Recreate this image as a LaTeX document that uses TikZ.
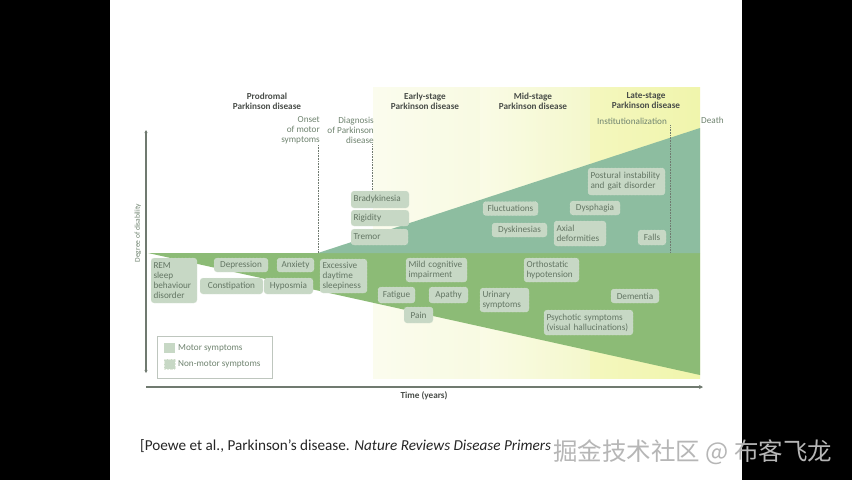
\documentclass[tikz,border=0pt]{standalone}
\usepackage{fontspec}
\setmainfont{Carlito}
\newfontfamily\cjkfont{Noto Sans CJK SC}
\usepackage{tikz}
\usetikzlibrary{arrows.meta,calc}
\definecolor{Motor}{RGB}{141,189,160}
\definecolor{NonMotor}{RGB}{140,187,118}
\definecolor{BoxFill}{RGB}{199,216,197}
\definecolor{BoxLine}{RGB}{228,236,224}
\definecolor{BoxText}{RGB}{100,118,100}
\definecolor{Head}{RGB}{72,76,72}
\definecolor{Note}{RGB}{112,132,112}
\definecolor{Axis}{RGB}{112,122,112}
\definecolor{LegendLine}{RGB}{190,198,190}
\definecolor{Mark}{RGB}{182,182,182}

\begin{document}
\begin{tikzpicture}[x=1pt, y=-1pt,
    symbox/.style={rounded corners=3pt, fill=BoxFill, draw=BoxLine, densely dotted,
        text=BoxText, font=\fontsize{9.2}{10}\selectfont, inner xsep=2.5pt, inner ysep=1pt, align=left},
    stagehead/.style={text=Head, font=\bfseries\fontsize{9.2}{10}\selectfont, align=center},
    eventnote/.style={text=Note, font=\fontsize{9.2}{10}\selectfont},
    guide/.style={densely dotted, draw=Axis, line width=0.6pt},
    axisline/.style={draw=Axis, line width=1.1pt}]
    %% Background
    \useasboundingbox (0,0) rectangle (852,480);
    \fill[black] (0,0) rectangle (110,480);
    \fill[white] (110,0) rectangle (742,480);
    \fill[black] (742,0) rectangle (852,480);

    %% Stage bands
    \shade[left color={rgb,255:red,251;green,252;blue,238}, right color={rgb,255:red,248;green,250;blue,226}]
    (373,87) rectangle (480,378);
    \shade[left color={rgb,255:red,250;green,251;blue,230}, right color={rgb,255:red,244;green,248;blue,204}]
    (480,87) rectangle (590,378);
    \shade[left color={rgb,255:red,244;green,247;blue,190}, right color={rgb,255:red,240;green,245;blue,172}]
    (590,87) rectangle (700,378);

    %% Symptom wedges
    \fill[NonMotor] (148,253) -- (700,253) -- (700,375) -- cycle;
    \fill[Motor] (318,253) -- (700,128) -- (700,253) -- cycle;

    %% Stage headings
    \node[stagehead] (prodromal) at (267,101) {Prodromal\\Parkinson disease};
    \node[stagehead] (early) at (425,101) {Early-stage\\Parkinson disease};
    \node[stagehead] (mid) at (533,101) {Mid-stage\\Parkinson disease};
    \node[stagehead] (late) at (646,101) {Late-stage\\Parkinson disease};

    %% Events
    \node[eventnote, align=right, anchor=east, inner sep=1pt] (onset) at (321,130) {Onset\\of motor\\symptoms};
    \node[eventnote, align=right, anchor=east, inner sep=1pt] (diagnosis) at (375,130) {Diagnosis\\of Parkinson\\disease};
    \node[eventnote, inner sep=1pt] (institution) at (632,121) {Institutionalization};
    \node[eventnote, anchor=west, inner sep=1pt] (death) at (700,120) {Death};

    %% Motor symptoms
    \node[symbox, text width=53pt, minimum height=17pt] (brady) at (380,199.5) {Bradykinesia};
    \node[symbox, text width=53pt, minimum height=16pt] (rigidity) at (380,218) {Rigidity};
    \node[symbox, text width=52pt, minimum height=16pt] (tremor) at (379.5,237) {Tremor};
    \node[symbox, text width=72pt, minimum height=27pt] (postural) at (626.5,181.5) {Postural instability\\and gait disorder};
    \node[symbox, text width=50pt, minimum height=14pt, align=center] (fluct) at (510.5,208.5) {Fluctuations};
    \node[symbox, text width=45pt, minimum height=14pt, align=center] (dysphagia) at (595,208) {Dysphagia};
    \node[symbox, text width=50pt, minimum height=14pt, align=center] (dyskin) at (519.5,230) {Dyskinesias};
    \node[symbox, text width=47pt, minimum height=25pt] (axial) at (580,233.5) {Axial\\deformities};
    \node[symbox, text width=23pt, minimum height=15pt, align=center] (falls) at (652,237.5) {Falls};

    %% Non-motor symptoms
    \node[symbox, text width=41pt, minimum height=45pt] (rem) at (174,280.5) {REM\\sleep\\behaviour\\disorder};
    \node[symbox, text width=49pt, minimum height=14pt, align=center] (depression) at (241,265) {Depression};
    \node[symbox, text width=32pt, minimum height=14pt, align=center] (anxiety) at (295.5,265) {Anxiety};
    \node[symbox, text width=58pt, minimum height=16pt, align=center] (constipation) at (231.5,286) {Constipation};
    \node[symbox, text width=44pt, minimum height=16pt, align=center] (hyposmia) at (288.5,286) {Hyposmia};
    \node[symbox, text width=42pt, minimum height=34pt] (sleepiness) at (343.5,276) {Excessive\\daytime\\sleepiness};
    \node[symbox, text width=56pt, minimum height=24pt] (cognitive) at (436.5,270) {Mild cognitive\\impairment};
    \node[symbox, text width=50pt, minimum height=24pt] (orthostatic) at (551.5,270) {Orthostatic\\hypotension};
    \node[symbox, text width=32pt, minimum height=16pt, align=center] (fatigue) at (396.5,295) {Fatigue};
    \node[symbox, text width=34pt, minimum height=16pt, align=center] (apathy) at (448.5,295) {Apathy};
    \node[symbox, text width=44pt, minimum height=24pt] (urinary) at (504.5,300) {Urinary\\symptoms};
    \node[symbox, text width=43pt, minimum height=14pt, align=center] (dementia) at (635,296) {Dementia};
    \node[symbox, text width=24pt, minimum height=16pt, align=center] (pain) at (418.5,315) {Pain};
    \node[symbox, text width=84pt, minimum height=25pt] (psychotic) at (588.5,322.5) {Psychotic symptoms\\(visual hallucinations)};

    %% Event lines
    \coordinate (onsetfoot) at (318,253);
    \coordinate (diagfoot) at (372,253);
    \coordinate (institutionfoot) at (670,253);
    \draw[guide] (onset.south -| onsetfoot) -- (onsetfoot);
    \draw[guide] (diagnosis.south -| diagfoot) -- (brady.north -| diagfoot);
    \draw[guide] (institution.south -| institutionfoot) -- (institutionfoot);

    %% Axes
    \coordinate (ytop) at (146,130);
    \coordinate (ybottom) at (146,373);
    \coordinate (xleft) at (146,387);
    \coordinate (xright) at (703,387);
    \draw[axisline, {Stealth[length=3pt,width=3pt]}-{Stealth[length=3pt,width=3pt]}] (ybottom) -- (ytop);
    \draw[axisline, -{Stealth[length=4pt,width=4pt]}] (xleft) -- (xright);
    \node[text=Note, font=\fontsize{7.5}{9}\selectfont, rotate=90] (ylabel) at (138,233) {Degree of disability};
    \node[text=Head, font=\bfseries\fontsize{9.2}{10}\selectfont] (xlabel) at (424,396) {Time (years)};

    %% Legend
    \node[draw=LegendLine, fill=white, minimum width=115pt, minimum height=42pt, inner sep=0] (legend) at (214.5,357) {};
    \node[fill=BoxFill, minimum width=11pt, minimum height=10pt, inner sep=0] (motorkey) at (169.5,348) {};
    \node[fill=BoxFill, draw=BoxLine, densely dotted, minimum width=11pt, minimum height=10pt, inner sep=0] (nonmotorkey) at (169.5,364) {};
    \node[eventnote, anchor=west, inner sep=1pt] (motortext) at (177,348) {Motor symptoms};
    \node[eventnote, anchor=west, inner sep=1pt] (nonmotortext) at (177,364) {Non-motor symptoms};

    %% Reference
    \node[anchor=base west, inner sep=0, text=black!85, font=\fontsize{15.2}{17}\selectfont] (cite) at (140,450)
    {[Poewe et al., Parkinson’s disease. \textit{Nature Reviews Disease Primers}};
    \node[anchor=west, inner sep=0, text=Mark, font=\cjkfont\fontsize{24.5}{26}\selectfont] (mark) at (553,452) {掘金技术社区 @ 布客飞龙};
\end{tikzpicture}
\end{document}
